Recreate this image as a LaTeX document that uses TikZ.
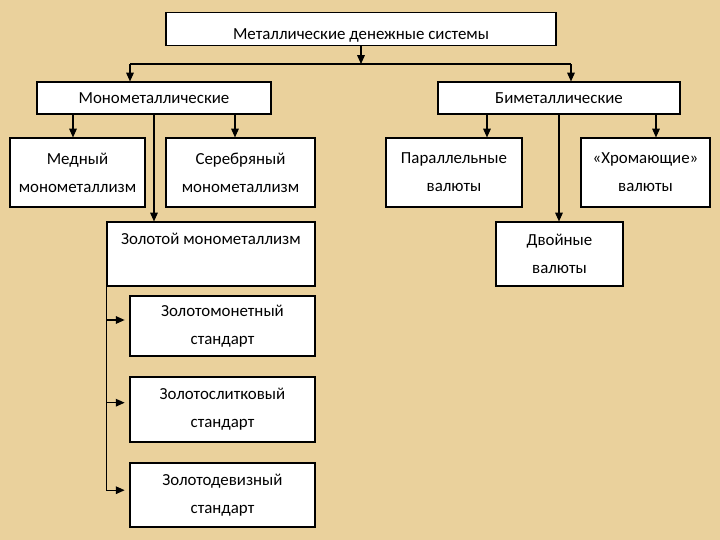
\documentclass[tikz,border=0pt]{standalone}
\usepackage{fontspec}
\setmainfont{Carlito}
\usetikzlibrary{arrows.meta, calc}
\definecolor{parchment}{RGB}{234,209,156}

\begin{document}
\begin{tikzpicture}[
            every node/.style={font=\fontsize{12}{20}\selectfont},
            box/.style={draw, fill=white, line width=0.8pt, align=center, inner sep=2pt},
            arrow/.style={-{Triangle[length=2.2mm, width=1.9mm]}, line width=0.8pt}
      ]
      % background
      \fill[parchment] (0,0) rectangle (18,-13.5);
      \useasboundingbox (0,0) rectangle (18,-13.5);

      % Top
      \node[box, minimum width=9.75cm, minimum height=0.75cm, text height=0.6cm] (top) at (9.025, -0.725) {Металлические денежные системы};

      % Second row
      \node[box, minimum width=5.85cm, minimum height=0.8cm] (mono) at (3.85, -2.45) {Монометаллические};
      \node[box, minimum width=6.05cm, minimum height=0.8cm] (bi) at (13.975, -2.45) {Биметаллические};

      % Third row
      \node[box, minimum width=3.375cm, minimum height=1.725cm] (copper) at (1.9375, -4.3125) {Медный\\монометаллизм};
      \node[box, minimum width=3.725cm, minimum height=1.725cm] (silver) at (6.0125, -4.3125) {Серебряный\\монометаллизм};
      \node[box, minimum width=3.4cm, minimum height=1.725cm] (par) at (11.35, -4.3125) {Параллельные\\валюты};
      \node[box, minimum width=3.225cm, minimum height=1.725cm] (lame) at (16.1375, -4.3125) {«Хромающие»\\валюты};

      % Gold and double
      \node[box, minimum width=5.2cm, minimum height=1.6cm, text depth=0.75cm] (gold) at (5.275, -6.35) {Золотой монометаллизм};
      \node[box, minimum width=3.175cm, minimum height=1.6cm] (dbl) at (13.9875, -6.35) {Двойные\\валюты};

      % Gold standards
      \node[box, minimum width=4.625cm, minimum height=1.5cm] (gcoin) at (5.5625, -8.15) {Золотомонетный\\стандарт};
      \node[box, minimum width=4.625cm, minimum height=1.625cm] (gbar) at (5.5625, -10.2375) {Золотослитковый\\стандарт};
      \node[box, minimum width=4.625cm, minimum height=1.6cm] (gex) at (5.5625, -12.375) {Золотодевизный\\стандарт};

      % split under the top box
      \coordinate (split) at (top.south |- 0,-1.6);
      \coordinate (lj) at (3.25, -1.6);
      \coordinate (rj) at (14.275, -1.6);
      \draw[arrow] (top) -- (split);
      \draw[line width=0.9pt] (lj) -- (rj);
      \draw[arrow] (lj) -- (lj |- mono.north);
      \draw[arrow] (rj) -- (rj |- bi.north);

      % mono branches
      \draw[arrow] ([xshift=-2.025cm]mono.south) coordinate (m1) -- (m1 |- copper.north);
      \draw[arrow] ([xshift=2.025cm]mono.south) coordinate (m2) -- (m2 |- silver.north);
      \draw[arrow] (mono.south) -- (mono.south |- gold.north);

      % bi branches
      \draw[arrow] ([xshift=-1.8cm]bi.south) coordinate (b1) -- (b1 |- par.north);
      \draw[arrow] ([xshift=2.425cm]bi.south) coordinate (b2) -- (b2 |- lame.north);
      \draw[arrow] (bi.south) -- (bi.south |- dbl.north);

      % gold standards
      \draw[arrow, shorten >=0.12cm] (gold.south west) |- ([yshift=0.15cm]gcoin.west);
      \draw[arrow, shorten >=0.12cm] (gold.south west) |- ([yshift=0.17cm]gbar.west);
      \draw[arrow, shorten >=0.12cm] (gold.south west) |- ([yshift=0.12cm]gex.west);
\end{tikzpicture}
\end{document}
